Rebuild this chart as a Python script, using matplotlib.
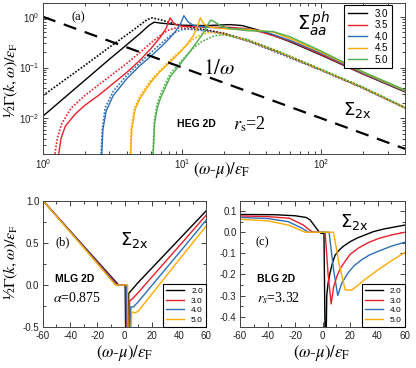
import numpy as np
import matplotlib
matplotlib.use("Agg")
import matplotlib.pyplot as plt
from matplotlib.ticker import MultipleLocator, NullFormatter, LogLocator, FormatStrFormatter

# ---- panel (a): HEG 2D, log-log ----
labels_a = ["3.0", "3.5", "4.0", "4.5", "5.0"]
colors = ["black", "#e8202a", "#2f6fb7", "#ffaa00", "#4caf4a"]

sol_x = [
    [1, 2, 3, 4, 5, 5.8, 6.3, 7, 10, 15, 22, 27, 35, 45, 60, 100, 200, 400],
    [1.3, 1.35, 1.45, 1.7, 2, 2.5, 3, 4, 5, 6, 7, 7.7, 8.2, 8.8, 10, 15, 22, 30, 40, 60, 100, 200, 400],
    [2.65, 2.7, 2.85, 3.2, 4, 5, 6, 7, 8, 9, 9.8, 10.3, 11, 12, 15, 20, 30, 40, 60, 100, 200, 400],
    [4.28, 4.35, 4.6, 5, 6, 7, 8, 9, 10, 11, 12, 12.8, 13.5, 14.3, 16, 20, 30, 45, 60, 100, 200, 400],
    [6.2, 6.35, 6.6, 7, 8.2, 10, 12, 14, 15.3, 16.1, 17, 19, 22, 30, 45, 60, 100, 200, 400],
]
sol_y = [
    [0.011, 0.056, 0.145, 0.28, 0.47, 0.68, 0.78, 0.75, 0.68, 0.67, 0.7, 0.67, 0.55, 0.43, 0.32, 0.175, 0.074, 0.033],
    [0.002, 0.004, 0.007, 0.012, 0.018, 0.028, 0.042, 0.08, 0.14, 0.24, 0.4, 0.6, 0.95, 0.72, 0.65, 0.62, 0.62, 0.58, 0.47, 0.33, 0.18, 0.075, 0.034],
    [0.002, 0.006, 0.014, 0.028, 0.06, 0.11, 0.17, 0.25, 0.36, 0.52, 0.75, 1.05, 0.8, 0.68, 0.62, 0.6, 0.57, 0.5, 0.34, 0.19, 0.077, 0.034],
    [0.002, 0.006, 0.015, 0.025, 0.052, 0.085, 0.12, 0.165, 0.22, 0.3, 0.42, 0.6, 0.95, 0.72, 0.62, 0.58, 0.56, 0.5, 0.37, 0.2, 0.08, 0.035],
    [0.002, 0.008, 0.015, 0.025, 0.065, 0.13, 0.25, 0.45, 0.7, 0.86, 0.8, 0.66, 0.58, 0.53, 0.51, 0.4, 0.21, 0.082, 0.036],
]
dot_x = [
    [1, 2, 3, 4, 5, 5.6, 6.1, 7, 10, 15, 20, 30, 50, 100, 200, 400],
    [1.22, 1.27, 1.37, 1.6, 2, 2.5, 3, 4, 5, 6, 7, 8, 9, 10, 15, 20, 30, 50, 100, 200, 400],
    [2.62, 2.67, 2.8, 3.2, 4, 5, 6, 7, 8, 9, 10, 11, 13, 15, 20, 30, 50, 100, 200, 400],
    [4.25, 4.3, 4.55, 5, 6, 8, 10, 12, 14, 16, 20, 30, 50, 100, 200, 400],
    [6.18, 6.3, 6.55, 7, 8.2, 10, 12, 14, 17, 20, 25, 30, 50, 100, 200, 400],
]
dot_y = [
    [0.028, 0.11, 0.25, 0.44, 0.69, 0.88, 0.95, 0.87, 0.66, 0.55, 0.47, 0.34, 0.2, 0.09, 0.04, 0.016],
    [0.002, 0.004, 0.008, 0.016, 0.028, 0.045, 0.066, 0.12, 0.2, 0.31, 0.43, 0.55, 0.6, 0.6, 0.53, 0.46, 0.33, 0.19, 0.088, 0.039, 0.016],
    [0.002, 0.006, 0.016, 0.034, 0.07, 0.125, 0.2, 0.29, 0.4, 0.5, 0.56, 0.57, 0.55, 0.52, 0.46, 0.33, 0.19, 0.088, 0.039, 0.016],
    [0.002, 0.006, 0.016, 0.028, 0.058, 0.13, 0.23, 0.36, 0.46, 0.49, 0.46, 0.34, 0.2, 0.09, 0.04, 0.016],
    [0.002, 0.008, 0.017, 0.03, 0.075, 0.14, 0.24, 0.33, 0.42, 0.44, 0.39, 0.35, 0.205, 0.092, 0.041, 0.0165],
]
inv_x = [1, 400]
inv_y = [1.0, 0.0025]

# ---- panel (b): MLG 2D ----
labels_bc = ["2.0", "3.0", "4.0", "5.0"]
b_x = [
    [-60, -30, -4.4, 0.4, 0.8, 2.6, 3.0, 10, 20, 40, 60],
    [-60, -30, -5.2, 1.0, 1.4, 3.3, 3.7, 6, 10, 20, 40, 60],
    [-60, -30, -6.0, 1.6, 2.0, 4.0, 4.6, 6.5, 10, 20, 40, 60],
    [-60, -30, -6.7, 2.2, 2.6, 4.6, 5.2, 8, 10, 20, 40, 60],
]
b_y = [
    [1.0, 0.46, 0.0, 0.0, -0.6, -0.6, -0.1, 0.03, 0.2, 0.54, 0.88],
    [1.0, 0.455, 0.0, 0.0, -0.6, -0.6, -0.19, -0.16, -0.09, 0.094, 0.46, 0.83],
    [1.0, 0.45, 0.0, 0.0, -0.6, -0.6, -0.26, -0.26, -0.2, -0.006, 0.38, 0.77],
    [1.0, 0.44, 0.0, 0.0, -0.6, -0.6, -0.32, -0.33, -0.31, -0.108, 0.30, 0.70],
]

# ---- panel (c): BLG 2D ----
c_x = [
    [-60, -35, -20, -12, -9, -5.5, -3, -1.5, 0, 1.0, 1.8, 2.6, 3.0, 4.0, 5.5, 7, 9, 12, 15, 20, 25, 30, 37, 45, 60],
    [-60, -40, -24, -14, -9, -6.7, 1.8, 4, 6.2, 8, 10.3, 13, 16.4, 20, 26, 33, 40.6, 50, 60],
    [-60, -40, -25, -15, -10.3, 4.7, 8, 11, 14, 18.8, 23, 28.5, 34, 40.6, 50, 60],
    [-60, -40, -25, -18, -12.7, 7.9, 12, 16.4, 21, 26, 30.9, 40.6, 50.3, 60],
]
c_y = [
    [0.084, 0.083, 0.078, 0.07, 0.058, 0.027, 0.005, -0.004, -0.006, -0.004, -0.5, -0.5, -0.3, -0.24, -0.19, -0.15, -0.11, -0.085, -0.067, -0.045, -0.028, -0.015, 0.003, 0.016, 0.034],
    [0.077, 0.074, 0.066, 0.034, 0.008, 0.0, 0.0, -0.2, -0.34, -0.26, -0.21, -0.17, -0.138, -0.105, -0.075, -0.05, -0.03, -0.013, 0.0],
    [0.07, 0.065, 0.05, 0.019, 0.0, 0.0, -0.18, -0.3, -0.24, -0.19, -0.158, -0.13, -0.108, -0.09, -0.066, -0.047],
    [0.061, 0.054, 0.034, 0.015, 0.0, 0.0, -0.15, -0.273, -0.275, -0.25, -0.223, -0.177, -0.134, -0.095],
]
colors_bc = ["black", "#e8202a", "#2f6fb7", "#ffaa00"]

SANS = "Liberation Sans"
SERIF = "Liberation Serif"
plt.rcParams["font.family"] = SANS
plt.rcParams["mathtext.fontset"] = "dejavusans"
plt.rcParams["axes.unicode_minus"] = False

fig = plt.figure(figsize=(4.16, 3.68), dpi=100)
W, H = 416.0, 368.0


def ptext(x, y, s, **kw):
    fig.text(x / W, 1 - y / H, s, **kw)


def style(ax):
    ax.tick_params(which="both", direction="in", top=True, right=True,
                   labelsize=7, width=0.6, colors="#222222", pad=2.5)
    ax.tick_params(which="major", length=3.5)
    ax.tick_params(which="minor", length=2)
    for s in ax.spines.values():
        s.set_linewidth(0.7)
        s.set_color("#444444")


def box_legend(ax, **kw):
    leg = ax.legend(frameon=True, fancybox=False, borderaxespad=0, **kw)
    leg.get_frame().set_edgecolor("black")
    leg.get_frame().set_linewidth(0.8)
    leg.get_frame().set_alpha(1)


# top panel
ax = fig.add_axes([0.103, 0.582, 0.871, 0.411])
for i in range(5):
    ax.plot(sol_x[i], sol_y[i], color=colors[i], lw=1.0, label=labels_a[i])
    ax.plot(dot_x[i], dot_y[i], color=colors[i], lw=1.2, ls=(0, (1, 1)))
ax.plot(inv_x, inv_y, color="black", lw=1.6, ls=(0, (6, 4)))
ax.set_xscale("log")
ax.set_yscale("log")
ax.set_xlim(1, 400)
ax.set_ylim(0.002, 1.9)
ax.xaxis.set_minor_locator(LogLocator(subs=np.arange(2, 10)))
ax.yaxis.set_minor_locator(LogLocator(subs=np.arange(2, 10)))
ax.xaxis.set_minor_formatter(NullFormatter())
ax.yaxis.set_minor_formatter(NullFormatter())
style(ax)
box_legend(ax, loc="upper right", bbox_to_anchor=(0.964, 0.985), fontsize=7,
           handlelength=2.0, labelspacing=0.15, borderpad=0.4, handletextpad=0.8)

ptext(71, 17, "(a)", family=SERIF, fontsize=9, va="center")
ptext(297, 24, r"$\Sigma_{aa}^{\,ph}$", fontsize=14, va="center")
ptext(203, 70, r"$1/\omega$", family=SERIF, math_fontfamily="stix", fontsize=15, va="center")
ptext(343, 110, r"$\Sigma_{\mathrm{2x}}$", fontsize=13, va="center")
ptext(177, 124, "HEG 2D", fontsize=7.5, weight="bold", va="center")
ptext(233, 124, r"$r_{\rm s}$=2", family=SERIF, math_fontfamily="stix", fontsize=13, va="center")

ylab = "½" + r"$\Gamma(k,\omega)/\epsilon_{\rm F}$"
xlab = r"$(\omega$-$\mu)/\epsilon_{\rm F}$"
ptext(11, 80, ylab, family=SERIF, math_fontfamily="stix", fontsize=11.5, rotation=90,
      ha="center", va="center")
ptext(222, 170, xlab, family=SERIF, math_fontfamily="stix", fontsize=12, ha="center", va="center")

# bottom left panel (b)
axb = fig.add_axes([0.103, 0.111, 0.393, 0.344])
for i in range(4):
    axb.plot(b_x[i], b_y[i], color=colors_bc[i], lw=1.0, label=labels_bc[i])
axb.set_xlim(-60, 60)
axb.set_ylim(-0.5, 1.0)
axb.xaxis.set_major_locator(MultipleLocator(20))
axb.xaxis.set_minor_locator(MultipleLocator(10))
axb.yaxis.set_major_locator(MultipleLocator(0.5))
axb.yaxis.set_minor_locator(MultipleLocator(0.25))
axb.yaxis.set_major_formatter(FormatStrFormatter("%.1f"))
style(axb)
box_legend(axb, loc="lower right", bbox_to_anchor=(1, 0), fontsize=6,
           handlelength=2.2, labelspacing=0.2, borderpad=0.4, handletextpad=0.8)
ptext(120, 240, r"$\Sigma_{\mathrm{2x}}$", fontsize=13, va="center")
ptext(55, 242, "(b)", family=SERIF, fontsize=9, va="center")
ptext(55, 279, "MLG 2D", fontsize=7.5, weight="bold", va="center")
ptext(53, 298, r"$\alpha$=0.875", family=SERIF, math_fontfamily="stix", fontsize=10, va="center")
ptext(11, 262, ylab, family=SERIF, math_fontfamily="stix", fontsize=11.5, rotation=90,
      ha="center", va="center")
ptext(125, 353, xlab, family=SERIF, math_fontfamily="stix", fontsize=12, ha="center", va="center")

# bottom right panel (c)
axc = fig.add_axes([0.577, 0.111, 0.397, 0.344])
for i in range(4):
    axc.plot(c_x[i], c_y[i], color=colors_bc[i], lw=1.0, label=labels_bc[i])
axc.set_xlim(-60, 60)
axc.set_ylim(-0.45, 0.15)
axc.xaxis.set_major_locator(MultipleLocator(20))
axc.xaxis.set_minor_locator(MultipleLocator(10))
axc.yaxis.set_major_locator(MultipleLocator(0.1))
axc.yaxis.set_minor_locator(MultipleLocator(0.05))
axc.yaxis.set_major_formatter(FormatStrFormatter("%.1f"))
style(axc)
box_legend(axc, loc="lower right", bbox_to_anchor=(1, 0), fontsize=6,
           handlelength=2.2, labelspacing=0.2, borderpad=0.4, handletextpad=0.8)
ptext(340, 222, r"$\Sigma_{\mathrm{2x}}$", fontsize=13, va="center")
ptext(255, 242, "(c)", family=SERIF, fontsize=9, va="center")
ptext(257, 279, "BLG 2D", fontsize=7.5, weight="bold", va="center")
ptext(257, 298, r"$r_s$=3.32", family=SERIF, math_fontfamily="stix", fontsize=10, va="center")
ptext(322, 353, xlab, family=SERIF, math_fontfamily="stix", fontsize=12, ha="center", va="center")

fig.savefig("out.png", dpi=100)
